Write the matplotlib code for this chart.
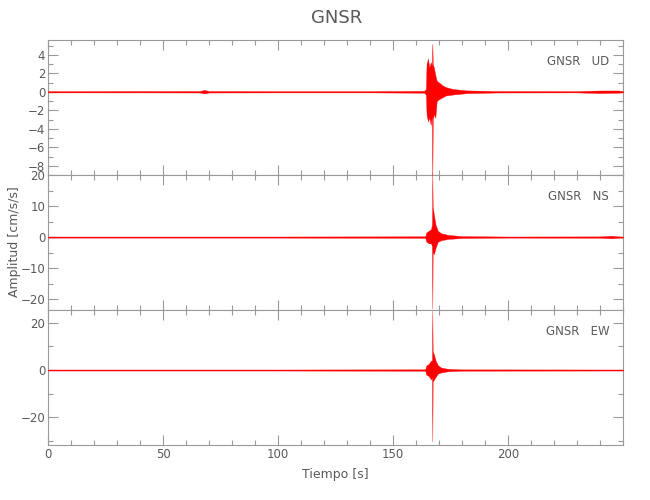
import matplotlib
matplotlib.use("Agg")
from matplotlib import pyplot as plt
from matplotlib.ticker import MultipleLocator, FixedLocator

plt.rcParams["font.family"] = ["DejaVu Sans"]

# envelope of each trace (time in s, max / min in cm/s/s)
ud_time = [0, 40, 66, 68, 70, 100, 140, 163.5, 164.3, 164.6, 165.2, 165.8, 166.4,
           166.9, 167.1, 167.3, 167.8, 168.4, 169.0, 170.0, 171.5, 173, 176, 182,
           195, 230, 240, 248, 250]
ud_max = [0.07, 0.08, 0.08, 0.2, 0.08, 0.07, 0.07, 0.1, 0.3, 3.0, 3.6, 2.6, 3.2,
          2.8, 5.2, 3.0, 2.6, 1.8, 1.2, 1.0, 0.7, 0.5, 0.3, 0.15,
          0.08, 0.07, 0.14, 0.14, 0.07]
ud_min = [-0.07, -0.07, -0.08, -0.18, -0.08, -0.07, -0.07, -0.1, -0.3, -2.5, -3.2,
          -2.8, -3.6, -2.6, -9.5, -3.0, -2.4, -2.8, -1.0, -0.8, -0.6, -0.4, -0.3,
          -0.15, -0.08, -0.07, -0.14, -0.1, -0.07]

ns_time = [0, 100, 164.0, 164.5, 165.5, 166.5, 166.95, 167.1, 167.25, 167.8, 168.5,
           169.5, 171, 174, 180, 200, 240, 245, 248, 250]
ns_max = [0.18, 0.18, 0.25, 1.5, 2.0, 2.5, 4.0, 21.0, 10.0, 7.0, 4.0,
          2.0, 1.2, 0.7, 0.3, 0.18, 0.22, 0.45, 0.22, 0.18]
ns_min = [-0.18, -0.18, -0.25, -1.5, -2.0, -2.0, -3.0, -23.0, -5.0, -5.5, -3.5,
          -1.5, -1.0, -0.6, -0.3, -0.18, -0.22, -0.4, -0.22, -0.18]

ew_time = [0, 100, 164.0, 164.5, 165.5, 166.5, 166.95, 167.1, 167.25, 167.8, 168.5,
           169.5, 171, 174, 180, 250]
ew_max = [0.22, 0.22, 0.3, 2.0, 2.5, 4.0, 4.0, 25.0, 8.0, 6.5, 4.0,
          2.0, 1.0, 0.5, 0.28, 0.22]
ew_min = [-0.22, -0.22, -0.3, -2.0, -2.5, -4.0, -3.0, -30.0, -5.0, -4.0, -3.0,
          -1.5, -1.0, -0.5, -0.28, -0.22]

station = "GNSR"
components = ["UD", "NS", "EW"]

text_col = "#5a5a5a"
axis_col = "#9a9a9a"

fig = plt.figure(figsize=(6.5, 5), dpi=100)

panels = [
    (ud_time, ud_max, ud_min, (-9, 5.6), 2, 1),
    (ns_time, ns_max, ns_min, (-23.5, 20), 10, 5),
    (ew_time, ew_max, ew_min, (-31.6, 25.3), 20, 10),
]

left, width, height = 48 / 650, 575 / 650, 135 / 500
for i, (t, hi, lo, ylim, major, minor) in enumerate(panels):
    bottom = 1 - (40 + 135 * (i + 1)) / 500
    ax = fig.add_axes([left, bottom, width, height])
    ax.fill_between(t, lo, hi, color="red", linewidth=0.25, edgecolor="red",
                    clip_on=False, zorder=3)
    ax.set_xlim(0, 250)
    ax.set_ylim(*ylim)
    ax.xaxis.set_major_locator(FixedLocator([0, 50, 100, 150, 200]))
    ax.xaxis.set_minor_locator(MultipleLocator(10))
    ax.yaxis.set_major_locator(MultipleLocator(major))
    ax.yaxis.set_minor_locator(MultipleLocator(minor))
    ax.tick_params(which="both", direction="in", top=True, right=True,
                   color=axis_col, labelcolor=text_col, labelsize=8.5, width=0.8,
                   pad=2)
    ax.tick_params(which="major", length=7)
    ax.tick_params(which="minor", length=3.5)
    for sp in ax.spines.values():
        sp.set_color(axis_col)
        sp.set_linewidth(0.8)
    if i < 2:
        ax.set_xticklabels([])
    ax.text(0.976, 0.844, f"{station}   {components[i]}", transform=ax.transAxes,
            ha="right", va="center", fontsize=8.5, color=text_col)
    if i == 2:
        ax.set_xlabel("Tiempo [s]", fontsize=9, color=text_col, labelpad=5)

fig.text(0.518, 0.964, station, ha="center", va="center", fontsize=13, color=text_col)
fig.text(0.022, 0.516, "Amplitud [cm/s/s]", rotation=90, ha="center", va="center",
         fontsize=9, color=text_col)

fig.savefig("out.png", dpi=100)
